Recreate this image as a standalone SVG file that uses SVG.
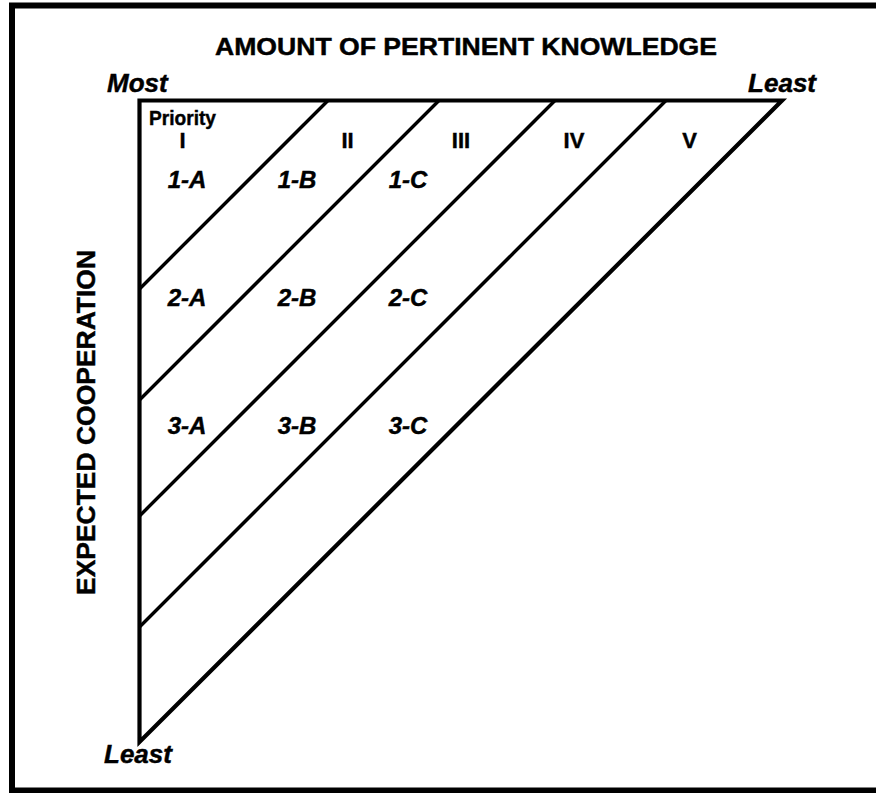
<svg xmlns="http://www.w3.org/2000/svg" width="876" height="793" viewBox="0 0 876 793">
<style>
text{font-family:"Liberation Sans",Arial,sans-serif;font-weight:bold;fill:#000;stroke:#000;stroke-width:0.45px}
.bi{font-style:italic}
.cell{font-size:24px;font-style:italic;text-anchor:middle}
.rom{font-size:22px;text-anchor:middle}
.ln{stroke:#000;fill:none}
</style>
<rect x="0" y="0" width="876" height="793" fill="#fff"/>
<g id="frame">
<rect class="ln" x="12" y="5.5" width="900" height="785" stroke-width="6"/>
</g>
<g id="axis-labels">
<text x="466" y="55" font-size="23.5" text-anchor="middle" textLength="502" lengthAdjust="spacingAndGlyphs">AMOUNT OF PERTINENT KNOWLEDGE</text>
<text class="bi" x="107" y="92" font-size="26">Most</text>
<text class="bi" x="816" y="92" font-size="26" text-anchor="end">Least</text>
<text class="bi" x="104" y="763" font-size="26">Least</text>
<text transform="translate(95,422.5) rotate(-90)" x="0" y="0" font-size="26.5" text-anchor="middle" textLength="345" lengthAdjust="spacingAndGlyphs">EXPECTED COOPERATION</text>
</g>
<g id="connectors">
<polygon class="ln" points="139.5,100.5 782,100.5 139.5,742" stroke-width="4.2" stroke-miterlimit="10"/>
<line class="ln" x1="328" y1="100.5" x2="139.5" y2="289" stroke-width="3.4"/>
<line class="ln" x1="439" y1="100.5" x2="139.5" y2="400" stroke-width="3.4"/>
<line class="ln" x1="555" y1="100.5" x2="139.5" y2="516" stroke-width="3.4"/>
<line class="ln" x1="666" y1="100.5" x2="139.5" y2="627" stroke-width="3.4"/>
</g>
<g id="priorities">
<text x="182.5" y="125" font-size="21" text-anchor="middle" textLength="67" lengthAdjust="spacingAndGlyphs">Priority</text>
<text class="rom" x="182.5" y="148">I</text>
<text class="rom" x="347.5" y="148">II</text>
<text class="rom" x="461" y="148">III</text>
<text class="rom" x="574" y="148">IV</text>
<text class="rom" x="689.5" y="148">V</text>
</g>
<g id="cells">
<text class="cell" x="187" y="188">1-A</text>
<text class="cell" x="297" y="188">1-B</text>
<text class="cell" x="408" y="188">1-C</text>
<text class="cell" x="187" y="306">2-A</text>
<text class="cell" x="297" y="306">2-B</text>
<text class="cell" x="408" y="306">2-C</text>
<text class="cell" x="187" y="434">3-A</text>
<text class="cell" x="297" y="434">3-B</text>
<text class="cell" x="408" y="434">3-C</text>
</g>
</svg>
